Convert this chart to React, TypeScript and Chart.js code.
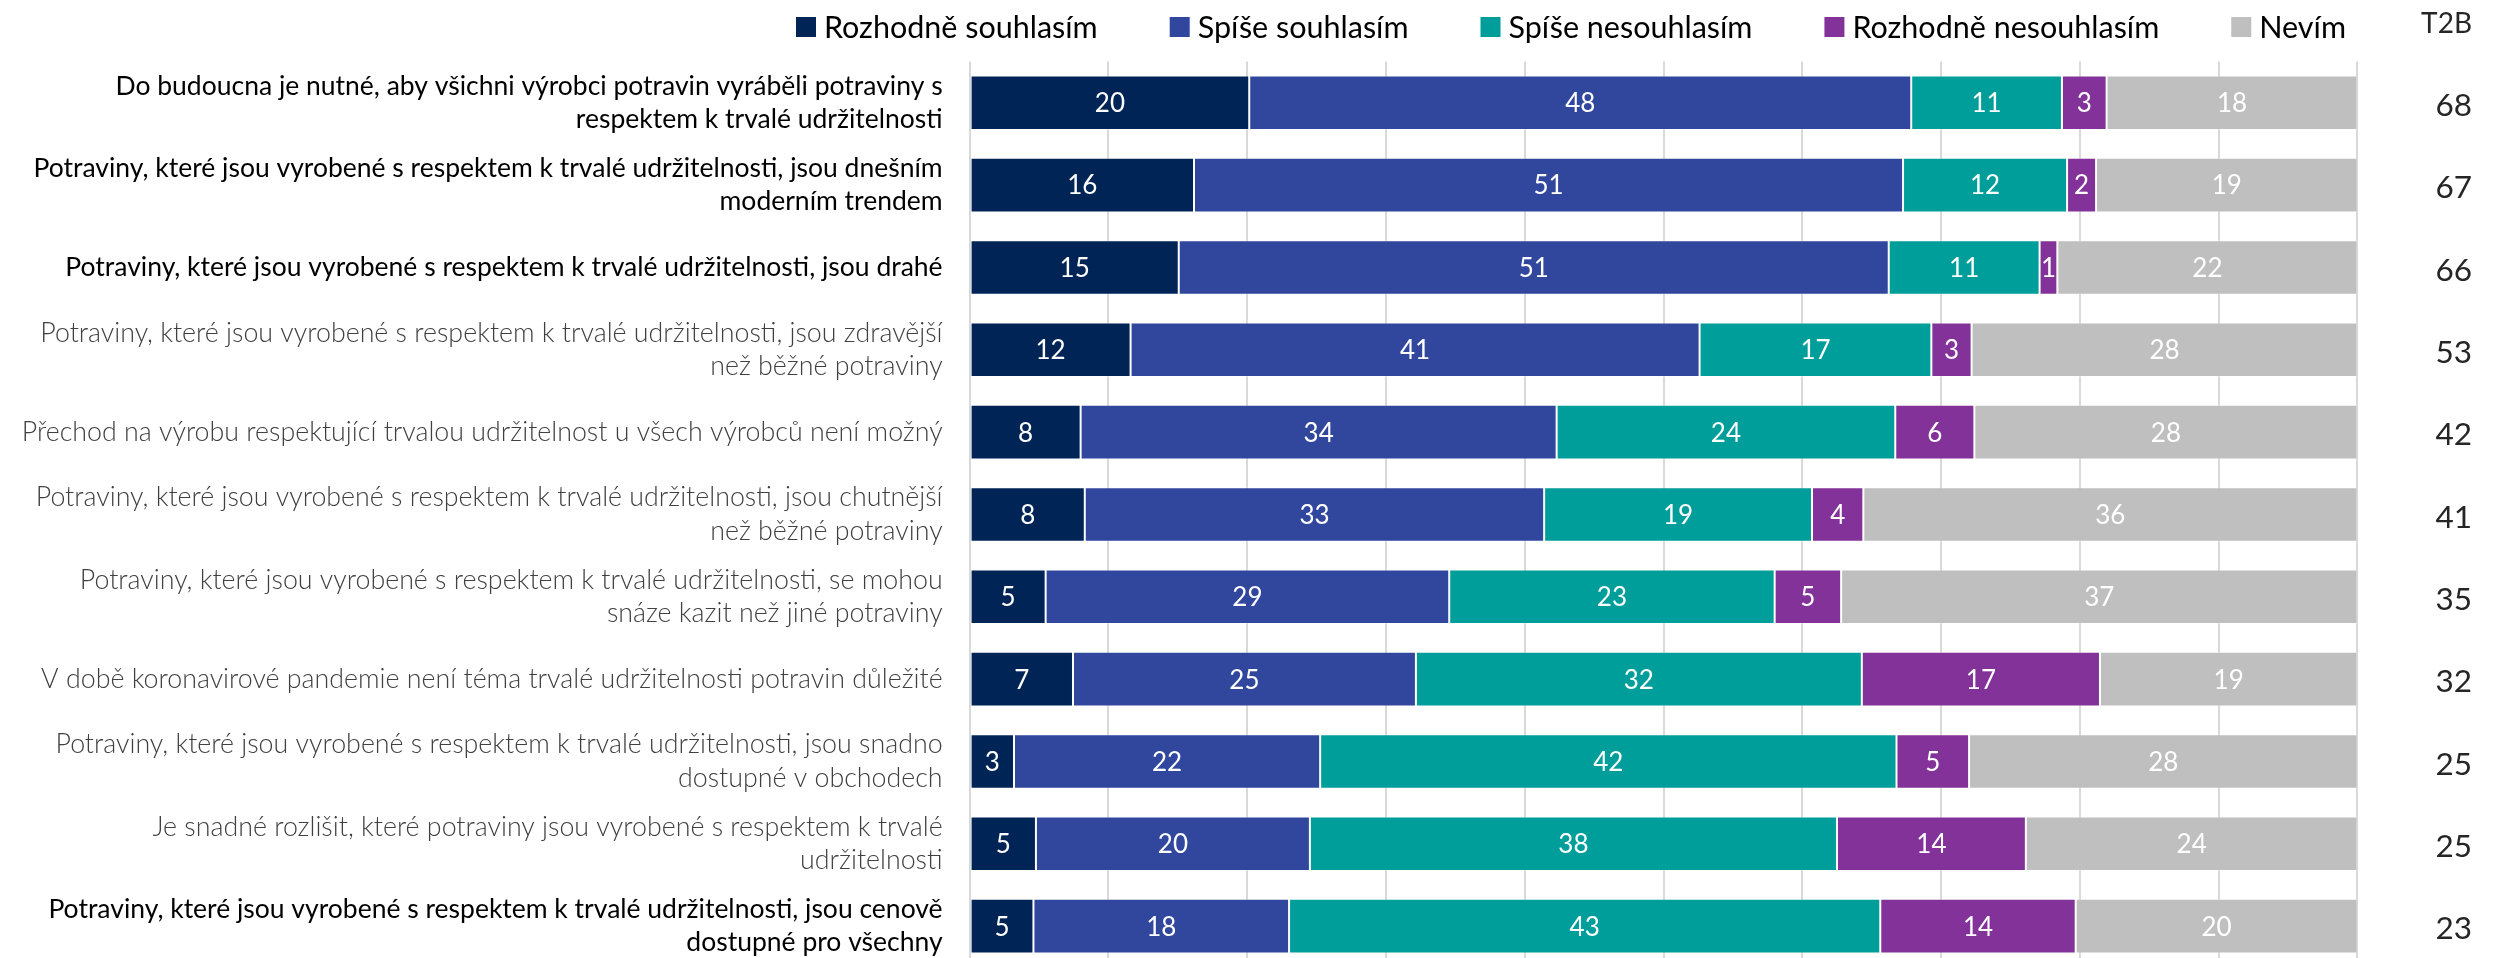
import React, { useEffect, useRef } from "react";
import { Chart, registerables } from "chart.js";
Chart.register(...registerables);

const FONT = "Lato, 'Open Sans', sans-serif";

const categories: string[][] = [
  ["Do budoucna je nutné, aby všichni výrobci potravin vyráběli potraviny s", "respektem k trvalé udržitelnosti"],
  ["Potraviny, které jsou vyrobené s respektem k trvalé udržitelnosti, jsou dnešním", "moderním trendem"],
  ["Potraviny, které jsou vyrobené s respektem k trvalé udržitelnosti, jsou drahé"],
  ["Potraviny, které jsou vyrobené s respektem k trvalé udržitelnosti, jsou zdravější", "než běžné potraviny"],
  ["Přechod na výrobu respektující trvalou udržitelnost u všech výrobců není možný"],
  ["Potraviny, které jsou vyrobené s respektem k trvalé udržitelnosti, jsou chutnější", "než běžné potraviny"],
  ["Potraviny, které jsou vyrobené s respektem k trvalé udržitelnosti, se mohou", "snáze kazit než jiné potraviny"],
  ["V době koronavirové pandemie není téma trvalé udržitelnosti potravin důležité"],
  ["Potraviny, které jsou vyrobené s respektem k trvalé udržitelnosti, jsou snadno", "dostupné v obchodech"],
  ["Je snadné rozlišit, které potraviny jsou vyrobené s respektem k trvalé", "udržitelnosti"],
  ["Potraviny, které jsou vyrobené s respektem k trvalé udržitelnosti, jsou cenově", "dostupné pro všechny"],
];

// rows whose label is shown in black (others in grey light)
const highlightedRows = [0, 1, 2, 10];

const seriesNames = ["Rozhodně souhlasím", "Spíše souhlasím", "Spíše nesouhlasím", "Rozhodně nesouhlasím", "Nevím"];
const seriesColors = ["#002456", "#31479E", "#009E9A", "#823299", "#BFBFBF"];

const rozhodneSouhlasim = [20.15, 16.17, 15.07, 11.6, 8.0, 8.3, 5.48, 7.45, 3.2, 4.78, 4.6];
const spiseSouhlasim = [47.7, 51.09, 51.16, 41.0, 34.3, 33.1, 29.08, 24.71, 22.06, 19.74, 18.42];
const spiseNesouhlasim = [10.86, 11.82, 10.87, 16.7, 24.4, 19.3, 23.45, 32.13, 41.53, 37.98, 42.6];
const rozhodneNesouhlasim = [3.22, 2.09, 1.28, 2.9, 5.7, 3.7, 4.79, 17.16, 5.23, 13.61, 14.08];
const nevim = [18.07, 18.84, 21.62, 27.8, 27.6, 35.6, 37.2, 18.55, 27.99, 23.89, 20.31];

const t2bHeader = "T2B";
const t2bValues = [68, 67, 66, 53, 42, 41, 35, 32, 25, 25, 23];

const seriesData = [rozhodneSouhlasim, spiseSouhlasim, spiseNesouhlasim, rozhodneNesouhlasim, nevim];

const valueLabelsPlugin = {
  id: "valueLabels",
  afterDatasetsDraw(chart: any) {
    const ctx = chart.ctx;
    ctx.save();
    ctx.font = `400 26px ${FONT}`;
    ctx.fillStyle = "#ffffff";
    ctx.textAlign = "center";
    ctx.textBaseline = "middle";
    chart.data.datasets.forEach((ds: any, di: number) => {
      const meta = chart.getDatasetMeta(di);
      meta.data.forEach((el: any, i: number) => {
        const v = ds.data[i] as number;
        const x = (el.x + el.base) / 2;
        ctx.fillText(String(Math.round(v)), x, el.y + 1);
      });
    });
    ctx.restore();
  },
};

const legendPlugin = {
  id: "customLegend",
  afterDraw(chart: any) {
    const ctx = chart.ctx;
    ctx.save();
    ctx.font = `400 30.5px ${FONT}`;
    ctx.textBaseline = "middle";
    ctx.textAlign = "left";
    const box = 20;
    const gapText = 8;
    const gapItem = 72;
    const y = 27;
    let x = 796;
    chart.data.datasets.forEach((ds: any) => {
      ctx.fillStyle = ds.backgroundColor;
      ctx.fillRect(x, y - box / 2, box, box);
      ctx.fillStyle = "#000000";
      const tx = x + box + gapText;
      ctx.fillText(ds.label, tx, y + 1);
      x = tx + ctx.measureText(ds.label).width + gapItem;
    });
    ctx.restore();
  },
};

const t2bPlugin = {
  id: "t2bColumn",
  afterDraw(chart: any) {
    const ctx = chart.ctx;
    const yScale = chart.scales.y;
    ctx.save();
    ctx.textAlign = "right";
    ctx.textBaseline = "middle";
    ctx.fillStyle = "#262626";
    ctx.font = `400 28px ${FONT}`;
    ctx.fillText(t2bHeader, 2472, 24);
    ctx.font = `400 31.5px ${FONT}`;
    t2bValues.forEach((v, i) => {
      ctx.fillText(String(v), 2472, yScale.getPixelForValue(i) + 3);
    });
    ctx.restore();
  },
};

export default function App() {
  const ref = useRef<HTMLCanvasElement>(null);
  useEffect(() => {
    const chart = new Chart(ref.current as HTMLCanvasElement, {
      type: "bar",
      data: {
        labels: categories as any,
        datasets: seriesNames.map((name, i) => ({
          label: name,
          data: seriesData[i],
          backgroundColor: seriesColors[i],
          borderColor: "rgba(255,255,255,0.35)",
          borderWidth: 1,
          borderSkipped: false,
          categoryPercentage: 1,
          barPercentage: 0.663,
        })),
      },
      options: {
        animation: false,
        responsive: false,
        devicePixelRatio: 1,
        indexAxis: "y",
        layout: { padding: { top: 61.6, right: 138.6, bottom: 0.7, left: 0 } },
        plugins: { legend: { display: false }, tooltip: { enabled: false } },
        scales: {
          x: {
            stacked: true,
            min: 0,
            max: 100,
            ticks: { display: false, stepSize: 10 },
            grid: { color: "#D9D9D9", lineWidth: 2, drawTicks: false },
            border: { display: false },
            afterFit: (s: any) => {
              s.paddingLeft = 0;
              s.paddingRight = 0;
            },
          },
          y: {
            stacked: true,
            ticks: {
              autoSkip: false,
              padding: 27,
              color: (c: any) => (highlightedRows.includes(c.index) ? "#000000" : "#404040"),
              font: (c: any) => ({
                family: FONT,
                size: highlightedRows.includes(c.index) ? 26.5 : 26.8,
                lineHeight: 1.25,
                weight: highlightedRows.includes(c.index) ? 400 : 300,
              }),
            },
            grid: { display: false, drawTicks: false },
            border: { display: false },
            afterFit: (s: any) => {
              s.width = 969.6;
              s.paddingTop = 0;
              s.paddingBottom = 0;
            },
          },
        },
      },
      plugins: [valueLabelsPlugin, legendPlugin, t2bPlugin],
    });
    return () => chart.destroy();
  }, []);
  return (
    <div style={{ position: "fixed", left: 0, top: 0, width: 2496, height: 958, overflow: "hidden", background: "#fff" }}>
      <canvas ref={ref} width={2496} height={968} style={{ display: "block", width: 2496, height: 968 }} />
    </div>
  );
}
